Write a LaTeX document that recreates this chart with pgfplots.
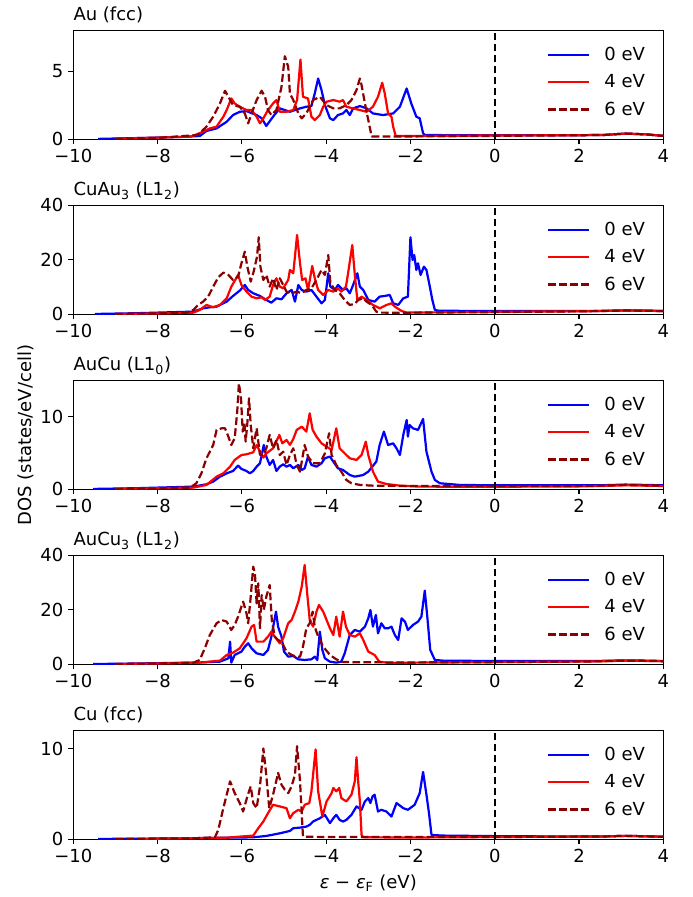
\documentclass[border=0pt]{standalone}
\usepackage{fontspec}
\setmainfont{DejaVu Sans}
\usepackage{pgfplots}
\pgfplotsset{compat=1.18}
\definecolor{cblue}{RGB}{0,0,255}
\definecolor{cred}{RGB}{255,0,0}
\definecolor{cdark}{RGB}{139,0,0}
\pgfplotsset{
 legend image code/.code={\draw[#1] (0pt,0pt) -- (29.6pt,0pt); \path (39.7pt,0pt);},
 dospanel/.style={
  scale only axis, width=426.39pt, height=78.77pt, anchor=south west,
  xmin=-10, xmax=4, ymin=0,
  xtick={-10,-8,-6,-4,-2,0,2,4},
  xticklabels={−10,−8,−6,−4,−2,0,2,4},
  tick align=outside, tick pos=left,
  major tick length=3.5pt,
  every tick/.style={black, line width=0.8pt},
  axis line style={line width=0.8pt},
  tick label style={font=\fontsize{13}{15.6}\selectfont},
  yticklabel style={inner sep=0pt, xshift=-3.5pt},
  xticklabel style={inner sep=0pt, yshift=-3.5pt},
  /pgf/number format/assume math mode=true,
  title style={at={(0,1)}, anchor=base west, yshift=0.9pt, inner sep=0pt, font=\fontsize{13}{15.6}\selectfont},
  legend style={draw=none, fill=none, at={(1,1)}, anchor=north east, xshift=-13pt, yshift=-11.9pt, inner sep=0pt, row sep=8.7pt, nodes={inner sep=0pt}, font=\fontsize{13}{15.6}\selectfont},
  legend cell align=left,
  every axis plot/.append style={line width=1.6pt, line join=round},
 },
 s0/.style={cblue, solid},
 s4/.style={cred, solid},
 s6/.style={cdark, dash pattern=on 5.55pt off 2.4pt},
 zl/.style={black, line width=1.5pt, dash pattern=on 5.55pt off 2.4pt, forget plot},
}
\begin{document}
\begin{tikzpicture}
% ---------------- Panel 1: Au (fcc)
\begin{axis}[dospanel, at={(52.97pt,-100.67pt)}, ymax=8, ytick={0,5}, title={Au (fcc)}]
\addplot[s0] coordinates {(-9.41,0.03) (-8.34,0.1) (-7.5,0.17) (-7.0,0.24) (-6.84,0.61) (-6.60,0.80) (-6.36,1.29) (-6.21,1.78) (-6.05,2.02) (-5.89,2.07) (-5.65,1.78) (-5.53,1.54) (-5.42,0.98) (-5.26,1.66) (-5.10,2.27) (-4.86,2.02) (-4.62,2.27) (-4.47,2.39) (-4.35,2.44) (-4.27,3.37) (-4.19,4.46) (-4.11,3.61) (-4.03,2.51) (-3.91,1.54) (-3.83,1.41) (-3.72,1.78) (-3.60,1.90) (-3.52,2.15) (-3.44,1.78) (-3.36,2.27) (-3.20,2.44) (-3.04,2.27) (-2.89,1.90) (-2.65,1.78) (-2.41,1.90) (-2.25,2.39) (-2.09,3.73) (-1.98,2.63) (-1.86,1.66) (-1.78,1.54) (-1.70,0.44) (-1.66,0.32) (-1.0,0.3) (0,0.3) (1,0.3) (2,0.3) (2.6,0.32) (3.1,0.42) (3.6,0.36) (4,0.25)};
\addlegendentry{0 eV}
\addplot[s4] coordinates {(-9.0,0.05) (-8.0,0.12) (-7.2,0.2) (-6.92,0.56) (-6.76,0.80) (-6.60,0.93) (-6.44,1.66) (-6.36,2.15) (-6.25,3.00) (-6.17,2.63) (-6.05,2.39) (-5.89,2.15) (-5.77,2.15) (-5.65,1.66) (-5.57,1.17) (-5.49,1.54) (-5.38,2.15) (-5.26,2.63) (-5.18,2.88) (-5.10,2.02) (-4.94,2.02) (-4.78,2.15) (-4.69,2.88) (-4.61,5.85) (-4.55,3.12) (-4.43,3.00) (-4.35,1.66) (-4.27,1.41) (-4.15,1.78) (-4.07,2.39) (-3.99,2.76) (-3.83,2.88) (-3.68,2.76) (-3.60,2.88) (-3.52,2.39) (-3.36,2.27) (-3.20,2.15) (-3.04,2.02) (-2.89,2.39) (-2.77,3.12) (-2.67,4.15) (-2.61,3.37) (-2.53,1.90) (-2.45,1.66) (-2.41,0.93) (-2.35,0.24) (-1.5,0.25) (0,0.28) (2,0.3) (2.6,0.32) (3.1,0.42) (3.6,0.36) (4,0.25)};
\addlegendentry{4 eV}
\addplot[s6] coordinates {(-9.0,0.04) (-8.0,0.1) (-7.04,0.32) (-6.84,0.93) (-6.68,1.66) (-6.52,2.63) (-6.40,3.56) (-6.32,3.12) (-6.21,2.51) (-6.05,2.39) (-5.93,1.90) (-5.85,1.17) (-5.77,1.90) (-5.65,2.88) (-5.53,3.56) (-5.45,3.12) (-5.38,2.15) (-5.30,1.78) (-5.18,2.15) (-5.06,3.85) (-4.98,6.10) (-4.90,5.32) (-4.86,3.37) (-4.78,2.88) (-4.66,1.90) (-4.58,1.54) (-4.47,1.90) (-4.31,2.88) (-4.15,3.12) (-3.99,2.51) (-3.83,2.27) (-3.68,2.27) (-3.52,2.51) (-3.40,2.88) (-3.28,3.61) (-3.20,4.46) (-3.16,3.98) (-3.08,2.63) (-3.00,1.41) (-2.92,0.20) (-2.5,0.2) (0,0.25) (2,0.3) (2.6,0.32) (3.1,0.42) (3.6,0.36) (4,0.25)};
\addlegendentry{6 eV}
\addplot[zl] coordinates {(0,0) (0,8)};
\end{axis}
% ---------------- Panel 2: CuAu3
\begin{axis}[dospanel, at={(52.97pt,-227.14pt)}, ymax=40, ytick={0,20,40}, title={CuAu\textsubscript{3} (L1\textsubscript{2})}]
\addplot[s0] coordinates {(-9.49,0.12) (-8.5,0.4) (-7.15,0.98) (-6.92,2.20) (-6.76,2.57) (-6.60,2.81) (-6.36,4.65) (-6.21,6.73) (-6.05,8.69) (-5.93,10.76) (-5.85,8.93) (-5.73,7.71) (-5.57,6.73) (-5.42,5.26) (-5.30,4.28) (-5.18,5.87) (-5.06,5.50) (-4.94,7.71) (-4.82,8.93) (-4.74,4.65) (-4.66,10.76) (-4.58,8.93) (-4.47,8.32) (-4.35,8.93) (-4.23,6.48) (-4.11,4.04) (-4.03,5.26) (-3.95,15.05) (-3.90,10.15) (-3.79,8.93) (-3.72,10.76) (-3.60,8.93) (-3.52,9.54) (-3.44,7.71) (-3.36,10.76) (-3.26,15.05) (-3.20,10.15) (-3.12,8.93) (-3.00,5.26) (-2.85,4.65) (-2.73,6.48) (-2.61,6.73) (-2.49,7.09) (-2.41,4.04) (-2.29,3.43) (-2.17,5.87) (-2.06,6.48) (-2.00,28.26) (-1.95,19.94) (-1.91,21.77) (-1.86,16.27) (-1.82,18.72) (-1.76,14.43) (-1.68,17.49) (-1.62,16.27) (-1.54,10.15) (-1.48,5.26) (-1.42,1.59) (-1.34,1.35) (-0.5,1.2) (1,1.2) (2.5,1.25) (3.1,1.45) (3.6,1.35) (4,1.2)};
\addlegendentry{0 eV}
\addplot[s4] coordinates {(-9.0,0.1) (-8.0,0.3) (-7.15,0.61) (-7.0,1.59) (-6.84,3.43) (-6.68,2.57) (-6.52,3.43) (-6.36,5.87) (-6.25,10.15) (-6.09,14.43) (-6.01,10.76) (-5.89,8.32) (-5.77,6.48) (-5.65,5.87) (-5.53,6.24) (-5.45,5.26) (-5.34,6.48) (-5.26,10.76) (-5.18,13.21) (-5.10,10.15) (-5.02,9.54) (-4.90,12.60) (-4.86,16.27) (-4.78,15.05) (-4.69,29.11) (-4.62,18.72) (-4.57,12.60) (-4.49,13.21) (-4.43,8.93) (-4.33,17.74) (-4.27,13.21) (-4.19,8.93) (-4.07,7.09) (-3.95,8.93) (-3.83,8.32) (-3.72,9.54) (-3.64,8.32) (-3.53,10.15) (-3.48,15.05) (-3.38,25.44) (-3.32,14.43) (-3.26,5.26) (-3.16,6.48) (-3.04,5.26) (-2.89,3.43) (-2.73,2.20) (-2.57,3.43) (-2.45,4.04) (-2.37,2.81) (-2.21,1.22) (-2.09,0.61) (-1.5,0.7) (0,0.9) (2,1.1) (2.5,1.2) (3.1,1.4) (3.6,1.3) (4,1.2)};
\addlegendentry{4 eV}
\addplot[s6] coordinates {(-9.0,0.1) (-8.0,0.3) (-7.31,0.61) (-7.15,1.59) (-7.04,3.43) (-6.92,4.65) (-6.80,6.48) (-6.68,10.15) (-6.56,13.58) (-6.44,15.29) (-6.32,14.43) (-6.21,12.60) (-6.09,13.82) (-6.01,18.72) (-5.93,23.00) (-5.87,17.49) (-5.79,11.99) (-5.72,15.66) (-5.64,21.16) (-5.60,28.26) (-5.56,17.49) (-5.49,12.60) (-5.42,14.43) (-5.34,10.15) (-5.26,13.21) (-5.18,8.93) (-5.10,13.21) (-5.02,10.76) (-4.94,8.32) (-4.82,7.71) (-4.70,8.32) (-4.58,7.71) (-4.47,8.93) (-4.35,9.54) (-4.23,12.60) (-4.11,16.27) (-4.03,14.43) (-3.95,21.77) (-3.90,11.38) (-3.79,8.93) (-3.68,7.71) (-3.56,5.26) (-3.44,3.43) (-3.32,3.79) (-3.24,5.26) (-3.12,5.87) (-3.04,4.65) (-2.92,3.43) (-2.81,0.98) (-2.73,0.61) (-2.0,0.6) (0,0.8) (2,1.1) (2.5,1.2) (3.1,1.4) (3.6,1.3) (4,1.2)};
\addlegendentry{6 eV}
\addplot[zl] coordinates {(0,0) (0,40)};
\end{axis}
% ---------------- Panel 3: AuCu
\begin{axis}[dospanel, at={(52.97pt,-353.61pt)}, ymax=15, ytick={0,10}, title={AuCu (L1\textsubscript{0})}]
\addplot[s0] coordinates {(-9.53,0.05) (-8.5,0.15) (-7.15,0.37) (-6.84,0.69) (-6.68,1.06) (-6.52,1.74) (-6.36,2.20) (-6.21,2.52) (-6.09,3.26) (-6.01,2.80) (-5.89,2.52) (-5.81,2.20) (-5.73,2.52) (-5.65,3.12) (-5.57,3.58) (-5.48,6.10) (-5.42,4.50) (-5.34,3.35) (-5.26,4.04) (-5.18,2.52) (-5.10,3.12) (-5.02,3.44) (-4.94,3.12) (-4.86,3.35) (-4.78,2.89) (-4.66,3.35) (-4.58,2.66) (-4.51,2.89) (-4.43,4.50) (-4.35,3.35) (-4.23,3.12) (-4.11,3.58) (-4.03,4.27) (-3.91,4.50) (-3.83,3.81) (-3.72,2.89) (-3.60,2.66) (-3.44,1.97) (-3.32,1.74) (-3.12,1.97) (-3.00,2.43) (-2.81,3.81) (-2.73,6.10) (-2.63,7.94) (-2.53,6.10) (-2.41,6.33) (-2.33,5.64) (-2.25,4.72) (-2.17,7.48) (-2.09,9.54) (-2.06,7.25) (-2.02,8.85) (-1.94,8.39) (-1.82,8.17) (-1.70,9.68) (-1.62,5.18) (-1.50,2.43) (-1.42,1.28) (-1.30,0.83) (-0.83,0.60) (0,0.55) (1,0.55) (2.5,0.55) (3.1,0.65) (3.6,0.6) (4,0.55)};
\addlegendentry{0 eV}
\addplot[s4] coordinates {(-9.0,0.05) (-8.0,0.15) (-7.15,0.23) (-6.84,0.60) (-6.60,1.74) (-6.44,2.20) (-6.28,3.12) (-6.17,4.04) (-6.01,4.72) (-5.89,4.82) (-5.73,5.09) (-5.65,6.10) (-5.57,5.18) (-5.49,4.36) (-5.42,4.95) (-5.26,5.64) (-5.11,7.48) (-5.04,6.33) (-4.94,6.79) (-4.86,6.10) (-4.78,6.93) (-4.70,8.17) (-4.58,8.62) (-4.47,7.94) (-4.39,10.46) (-4.32,8.17) (-4.23,7.25) (-4.11,6.33) (-3.99,5.87) (-3.87,5.41) (-3.76,8.39) (-3.68,5.64) (-3.56,4.95) (-3.44,4.27) (-3.28,4.04) (-3.16,4.72) (-3.06,6.56) (-3.00,4.72) (-2.89,2.43) (-2.77,1.06) (-2.57,0.73) (-2.25,0.50) (-1.78,0.37) (0,0.35) (2,0.4) (2.5,0.45) (3.1,0.55) (3.6,0.5) (4,0.45)};
\addlegendentry{4 eV}
\addplot[s6] coordinates {(-9.0,0.05) (-8.0,0.12) (-7.23,0.23) (-7.08,0.83) (-6.96,2.20) (-6.84,4.27) (-6.68,6.10) (-6.60,8.17) (-6.48,8.39) (-6.40,8.39) (-6.32,7.25) (-6.25,6.10) (-6.17,7.02) (-6.11,10.69) (-6.07,14.59) (-6.02,12.52) (-5.98,7.94) (-5.94,9.08) (-5.91,6.56) (-5.87,9.08) (-5.83,12.52) (-5.79,8.85) (-5.73,5.64) (-5.65,8.39) (-5.57,4.72) (-5.49,4.72) (-5.42,5.64) (-5.34,7.48) (-5.26,5.64) (-5.18,6.79) (-5.10,4.72) (-5.02,5.18) (-4.94,3.35) (-4.86,4.72) (-4.78,5.64) (-4.70,3.35) (-4.62,2.43) (-4.51,6.10) (-4.43,4.50) (-4.31,3.58) (-4.15,3.58) (-4.03,4.95) (-3.93,7.71) (-3.87,4.72) (-3.76,3.35) (-3.64,2.43) (-3.52,1.28) (-3.40,0.83) (-3.20,0.60) (-2.89,0.50) (-2.0,0.45) (0,0.45) (2,0.45) (2.5,0.5) (3.1,0.6) (3.6,0.55) (4,0.5)};
\addlegendentry{6 eV}
\addplot[zl] coordinates {(0,0) (0,15)};
\end{axis}
% ---------------- Panel 4: AuCu3
\begin{axis}[dospanel, at={(52.97pt,-480.09pt)}, ymax=40, ytick={0,20,40}, title={AuCu\textsubscript{3} (L1\textsubscript{2})}]
\addplot[s0] coordinates {(-9.53,0.1) (-8.5,0.3) (-7.15,0.61) (-6.52,0.98) (-6.32,2.20) (-6.28,8.32) (-6.25,0.61) (-6.17,3.43) (-6.01,4.65) (-5.93,6.48) (-5.85,7.71) (-5.77,5.87) (-5.65,4.04) (-5.49,3.43) (-5.38,5.26) (-5.30,10.15) (-5.19,19.33) (-5.14,13.82) (-5.06,10.15) (-5.00,4.65) (-4.90,2.81) (-4.78,3.06) (-4.66,1.83) (-4.51,1.59) (-4.35,1.83) (-4.27,2.81) (-4.21,1.59) (-4.15,11.99) (-4.09,5.26) (-4.03,2.20) (-3.91,0.98) (-3.76,0.61) (-3.64,0.98) (-3.56,4.04) (-3.44,10.76) (-3.32,12.60) (-3.20,11.99) (-3.08,13.82) (-3.00,16.88) (-2.95,19.94) (-2.89,13.82) (-2.82,18.10) (-2.77,11.38) (-2.69,15.05) (-2.61,13.21) (-2.53,13.21) (-2.45,13.82) (-2.37,10.76) (-2.29,8.93) (-2.21,16.88) (-2.13,15.66) (-2.06,12.60) (-1.94,14.43) (-1.82,15.66) (-1.74,17.49) (-1.66,27.03) (-1.60,17.49) (-1.53,5.26) (-1.42,1.59) (-1.23,1.35) (0,1.2) (2,1.2) (2.5,1.25) (3.1,1.45) (3.6,1.35) (4,1.2)};
\addlegendentry{0 eV}
\addplot[s4] coordinates {(-9.0,0.1) (-8.0,0.3) (-7.00,0.61) (-6.52,1.35) (-6.36,3.43) (-6.21,4.28) (-6.05,5.87) (-5.89,9.54) (-5.77,13.82) (-5.71,14.43) (-5.65,8.32) (-5.49,8.32) (-5.38,10.15) (-5.30,11.99) (-5.22,10.15) (-5.10,7.71) (-5.02,9.54) (-4.90,15.05) (-4.82,16.27) (-4.74,19.33) (-4.66,23.00) (-4.58,28.50) (-4.51,36.45) (-4.45,26.06) (-4.39,16.27) (-4.31,13.82) (-4.23,19.33) (-4.17,21.77) (-4.07,19.33) (-3.99,16.27) (-3.91,13.21) (-3.83,10.76) (-3.76,17.49) (-3.68,10.15) (-3.60,19.33) (-3.53,13.82) (-3.44,10.76) (-3.32,10.15) (-3.20,11.38) (-3.12,8.93) (-3.00,4.65) (-2.85,3.43) (-2.74,0.98) (-2.57,0.61) (-2.0,0.6) (0,0.8) (2,1.0) (2.5,1.1) (3.1,1.35) (3.6,1.25) (4,1.15)};
\addlegendentry{4 eV}
\addplot[s6] coordinates {(-9.0,0.1) (-8.0,0.3) (-7.15,0.61) (-7.00,1.59) (-6.88,5.87) (-6.76,10.76) (-6.60,15.05) (-6.48,16.27) (-6.36,15.66) (-6.25,12.60) (-6.17,14.43) (-6.09,17.49) (-5.97,23.00) (-5.89,18.72) (-5.85,15.05) (-5.79,24.83) (-5.73,35.84) (-5.69,33.39) (-5.65,22.39) (-5.61,29.72) (-5.57,13.21) (-5.53,25.44) (-5.48,19.94) (-5.42,24.83) (-5.34,29.11) (-5.29,16.27) (-5.22,10.15) (-5.14,8.93) (-5.06,8.32) (-4.94,4.65) (-4.82,3.43) (-4.70,2.81) (-4.62,2.81) (-4.55,6.48) (-4.47,13.21) (-4.39,15.05) (-4.32,19.33) (-4.27,13.82) (-4.19,10.15) (-4.07,6.48) (-3.91,3.43) (-3.76,1.83) (-3.60,0.86) (-3.20,0.73) (-2.0,0.7) (0,0.8) (2,1.0) (2.5,1.1) (3.1,1.35) (3.6,1.25) (4,1.15)};
\addlegendentry{6 eV}
\addplot[zl] coordinates {(0,0) (0,40)};
\end{axis}
% ---------------- Panel 5: Cu (fcc)
\begin{axis}[dospanel, at={(52.97pt,-606.56pt)}, ymax=12, ytick={0,10}, title={Cu (fcc)},
  xlabel={\textit{ε} − \textit{ε}\textsubscript{F} (eV)},
  xlabel style={at={(axis description cs:0.5,0)}, anchor=base, yshift=-35.2pt, inner sep=0pt, font=\fontsize{13}{15.6}\selectfont}]
\addplot[s0] coordinates {(-9.41,0.04) (-7.15,0.11) (-6.36,0.18) (-5.73,0.22) (-5.42,0.37) (-5.10,0.66) (-4.86,0.92) (-4.78,1.22) (-4.62,1.29) (-4.47,1.40) (-4.39,1.59) (-4.31,1.96) (-4.15,2.32) (-4.03,2.69) (-3.91,1.78) (-3.83,2.32) (-3.76,2.69) (-3.68,2.14) (-3.60,1.96) (-3.52,2.14) (-3.40,2.69) (-3.28,3.62) (-3.16,3.25) (-3.08,4.17) (-3.00,4.54) (-2.95,3.99) (-2.90,4.72) (-2.85,4.91) (-2.77,3.06) (-2.69,3.25) (-2.57,3.06) (-2.45,2.51) (-2.33,3.99) (-2.17,3.43) (-2.06,3.25) (-1.90,3.80) (-1.78,5.09) (-1.70,7.42) (-1.62,4.91) (-1.56,2.88) (-1.50,0.48) (-1.23,0.41) (0,0.35) (2,0.3) (2.5,0.3) (3.1,0.38) (3.6,0.33) (4,0.28)};
\addlegendentry{0 eV}
\addplot[s4] coordinates {(-8.34,0.04) (-6.36,0.18) (-5.73,0.41) (-5.61,1.22) (-5.49,1.96) (-5.38,2.88) (-5.26,3.80) (-5.10,3.62) (-4.94,3.43) (-4.86,2.32) (-4.78,2.88) (-4.66,3.25) (-4.58,3.06) (-4.51,3.80) (-4.40,3.99) (-4.35,5.28) (-4.25,9.89) (-4.19,5.28) (-4.09,2.51) (-3.99,4.17) (-3.87,5.09) (-3.83,5.65) (-3.76,5.28) (-3.69,5.65) (-3.64,4.54) (-3.52,4.17) (-3.40,4.91) (-3.32,6.38) (-3.28,9.04) (-3.24,6.38) (-3.20,4.17) (-3.16,0.48) (-3.12,0.22) (-2.0,0.2) (0,0.25) (2,0.3) (2.5,0.3) (3.1,0.38) (3.6,0.33) (4,0.28)};
\addlegendentry{4 eV}
\addplot[s6] coordinates {(-9.0,0.04) (-7.15,0.11) (-6.64,0.22) (-6.56,1.03) (-6.44,3.43) (-6.28,6.38) (-6.17,5.09) (-6.05,3.99) (-5.97,3.06) (-5.87,4.72) (-5.79,5.83) (-5.73,3.99) (-5.65,3.43) (-5.57,5.83) (-5.49,10.00) (-5.43,7.49) (-5.35,3.43) (-5.26,4.91) (-5.14,7.31) (-5.06,6.01) (-4.98,5.46) (-4.90,5.09) (-4.82,5.83) (-4.74,7.12) (-4.69,10.26) (-4.62,6.38) (-4.55,0.30) (-4.0,0.25) (0,0.25) (2,0.3) (2.5,0.3) (3.1,0.38) (3.6,0.33) (4,0.28)};
\addlegendentry{6 eV}
\addplot[zl] coordinates {(0,0) (0,12)};
\end{axis}
\node[rotate=90, anchor=base, inner sep=0pt, font=\fontsize{13}{15.6}\selectfont] at (22.91pt,-314.37pt) {DOS (states/eV/cell)};
\pgfresetboundingbox
\useasboundingbox (0pt,0pt) rectangle (500.11pt,-648.26pt);
\end{tikzpicture}
\end{document}
